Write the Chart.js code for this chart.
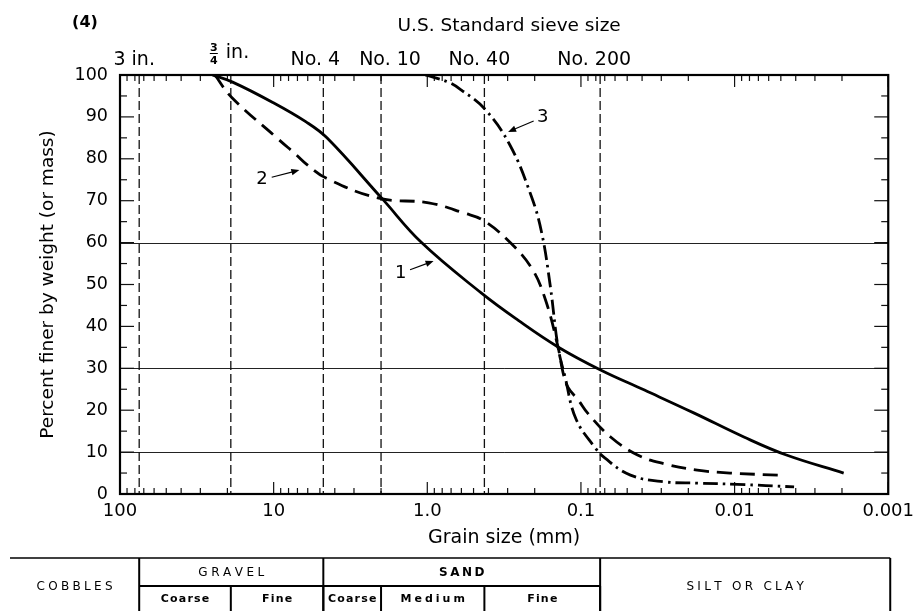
<!DOCTYPE html>
<html><head><meta charset="utf-8">
<script src="https://cdn.jsdelivr.net/npm/chart.js@4.4.1/dist/chart.umd.min.js"></script>
<style>html,body{margin:0;padding:0;background:#fff;}canvas{display:block;}</style>
</head><body>
<canvas id="c" width="921" height="611" style="width:921px;height:611px"></canvas>
<script>
// ---------- data ----------
const sieveNames = ['3 in.', '3/4 in.', 'No. 4', 'No. 10', 'No. 40', 'No. 200'];
const sieveSizes = [75, 19, 4.75, 2.0, 0.425, 0.075];           // mm
const xTickValues = [100, 10, 1, 0.1, 0.01, 0.001];
const xTickLabels = ['100', '10', '1.0', '0.1', '0.01', '0.001'];
const yTickValues = [0, 10, 20, 30, 40, 50, 60, 70, 80, 90, 100];
const gridPercents = [10, 30, 60];

const curve1Size    = [25, 18.5, 10.2, 6.15, 4.5, 1.98, 1.09, 0.446, 0.257, 0.141, 0.0745, 0.0386, 0.0183, 0.0087, 0.0046, 0.00195];
const curve1Percent = [100, 98.3, 93.5, 88.8, 85, 70.6, 60, 48, 41.5, 35.1, 29.6, 24.8, 19.3, 13.6, 9.3, 5];

const curve2Size    = [24.1, 18.8, 9.2, 7.1, 6.15, 4.56, 2.07, 0.98, 0.57, 0.436, 0.30, 0.21, 0.17, 0.141, 0.131, 0.1216, 0.104, 0.0904, 0.0641, 0.0428, 0.0286, 0.0175, 0.0107, 0.00515];
const curve2Percent = [100, 94.7, 84.5, 80.9, 78.8, 75.4, 70.6, 69.5, 67, 65.4, 60.6, 54, 46.3, 35.1, 29.1, 25.5, 22.4, 19.3, 13.6, 9.3, 7.2, 5.7, 5.0, 4.5];

const curve3Size    = [1.03, 0.73, 0.60, 0.425, 0.29, 0.21, 0.18, 0.158, 0.141, 0.127, 0.108, 0.0815, 0.070, 0.0476, 0.0286, 0.0175, 0.0096, 0.0041];
const curve3Percent = [100, 98.3, 96.4, 92, 83.3, 71, 62.3, 49.4, 35.1, 28, 18, 11.2, 8.6, 4.5, 2.9, 2.6, 2.3, 1.7];

const calloutText      = ['1', '2', '3'];
const calloutLabelSize = [1.49, 11.9, 0.177];
const calloutLabelPct  = [52.7, 75, 90];
const calloutTipSize   = [0.91, 6.8, 0.298];
const calloutTipPct    = [55.6, 77.3, 86.4];

// soil classification table (boundaries are sieve sizes)
const majorClasses = ['COBBLES', 'GRAVEL', 'SAND', 'SILT OR CLAY'];
const majorBounds  = [[null, 75], [75, 4.75], [4.75, 0.075], [0.075, null]];
const subClasses   = ['Coarse', 'Fine', 'Coarse', 'Medium', 'Fine'];
const subBounds    = [[75, 19], [19, 4.75], [4.75, 2.0], [2.0, 0.425], [0.425, 0.075]];

// ---------- helpers ----------
const FONT = "'DejaVu Sans', sans-serif";
const pts = (xs, ys) => xs.map((v, i) => ({x: v, y: ys[i]}));

function spacedText(ctx, text, cx, cy, spacing) {
  const chars = [...text];
  const widths = chars.map(c => ctx.measureText(c).width);
  const total = widths.reduce((a, b) => a + b, 0) + spacing * (chars.length - 1);
  let xx = cx - total / 2;
  ctx.textAlign = 'left';
  chars.forEach((c, i) => { ctx.fillText(c, xx, cy); xx += widths[i] + spacing; });
}

const decor = {
  id: 'decor',
  beforeDatasetsDraw(chart) {
    const {ctx, chartArea: a, scales: {x, y}} = chart;
    const seg = (x1, y1, x2, y2) => { ctx.beginPath(); ctx.moveTo(x1, y1); ctx.lineTo(x2, y2); ctx.stroke(); };
    ctx.save();
    ctx.strokeStyle = '#222';
    ctx.lineWidth = 1;
    gridPercents.forEach(p => { const py = Math.round(y.getPixelForValue(p)) + 0.5; seg(a.left, py, a.right, py); });
    ctx.strokeStyle = '#111';
    ctx.setLineDash([9, 4]);
    ctx.lineWidth = 1.3;
    sieveSizes.forEach(s => { const px = x.getPixelForValue(s); seg(px, a.top, px, a.bottom); });
    ctx.setLineDash([]);
    ctx.lineWidth = 1.2;
    for (let k = -3; k <= 1; k++) {
      for (let m = 1; m <= 9; m++) {
        const v = m * Math.pow(10, k);
        const px = x.getPixelForValue(v);
        const len = m === 1 ? 12 : 6;
        seg(px, a.bottom, px, a.bottom - len);
        seg(px, a.top, px, a.top + len);
      }
    }
    for (let p = 0; p <= 100; p += 5) {
      const py = y.getPixelForValue(p);
      const len = p % 10 === 0 ? 14 : 7;
      seg(a.left, py, a.left + len, py);
      seg(a.right, py, a.right - len, py);
    }
    ctx.lineWidth = 2.2;
    ctx.strokeStyle = '#000';
    ctx.strokeRect(a.left, a.top, a.right - a.left, a.bottom - a.top);
    ctx.restore();
  },
  afterDraw(chart) {
    const {ctx, chartArea: a, scales: {x, y}} = chart;
    const seg = (x1, y1, x2, y2) => { ctx.beginPath(); ctx.moveTo(x1, y1); ctx.lineTo(x2, y2); ctx.stroke(); };
    ctx.save();
    ctx.fillStyle = '#000';
    ctx.strokeStyle = '#000';

    // callouts
    ctx.font = '18px ' + FONT;
    ctx.textAlign = 'center';
    ctx.textBaseline = 'middle';
    ctx.lineWidth = 1.1;
    calloutText.forEach((t, i) => {
      const lx = x.getPixelForValue(calloutLabelSize[i]), ly = y.getPixelForValue(calloutLabelPct[i]);
      const tx = x.getPixelForValue(calloutTipSize[i]), ty = y.getPixelForValue(calloutTipPct[i]);
      ctx.fillText(t, lx, ly);
      const dx = tx - lx, dy = ty - ly, d = Math.hypot(dx, dy), ux = dx / d, uy = dy / d;
      const sx = lx + ux * 10, sy = ly + uy * 10;
      seg(sx, sy, tx - ux * 6, ty - uy * 6);
      ctx.beginPath();
      ctx.moveTo(tx, ty);
      ctx.lineTo(tx - ux * 8 - uy * 3.2, ty - uy * 8 + ux * 3.2);
      ctx.lineTo(tx - ux * 8 + uy * 3.2, ty - uy * 8 - ux * 3.2);
      ctx.closePath();
      ctx.fill();
    });

    // header texts
    ctx.textBaseline = 'alphabetic';
    ctx.font = 'bold 16px ' + FONT;
    ctx.textAlign = 'center';
    ctx.fillText('(4)', 85, 27);
    ctx.font = '18.5px ' + FONT;
    ctx.fillText('U.S. Standard sieve size', (a.left + a.right) / 2 + 5, 31);

    const nudge = [-5, 0, -8, 9, -5, -6];
    sieveNames.forEach((n, i) => {
      const px = x.getPixelForValue(sieveSizes[i]) + nudge[i];
      if (n.startsWith('3/4')) {
        ctx.font = 'bold 11px ' + FONT;
        ctx.textAlign = 'center';
        ctx.fillText('3', px - 17, 51);
        ctx.fillText('4', px - 17, 64);
        ctx.lineWidth = 1;
        seg(px - 21, 53.5, px - 13, 53.5);
        ctx.font = '19px ' + FONT;
        ctx.textAlign = 'left';
        ctx.fillText(n.replace('3/4 ', ''), px - 5, 58);
      } else {
        ctx.font = '19px ' + FONT;
        ctx.textAlign = 'center';
        ctx.fillText(n, px, 65);
      }
    });

    // classification table
    const tTop = 558, tMid = 586, tBot = 611;
    const xl = 10, xr = a.right + 2;
    const bx = v => v === null ? null : x.getPixelForValue(v);
    ctx.lineWidth = 1.5;
    seg(xl, tTop, xr, tTop);
    ctx.lineWidth = 2;
    const gx0 = bx(majorBounds[1][0]), sx1 = bx(majorBounds[2][1]);
    seg(gx0, tMid, sx1, tMid);
    [gx0, bx(majorBounds[2][0]), sx1, xr].forEach(px => seg(px, tTop, px, tBot));
    subBounds.forEach(b => { const px = bx(b[1]); seg(px, tMid, px, tBot); });

    ctx.textBaseline = 'middle';
    majorClasses.forEach((c, i) => {
      const l = majorBounds[i][0] === null ? xl : bx(majorBounds[i][0]);
      const r = majorBounds[i][1] === null ? xr : bx(majorBounds[i][1]);
      const cx = (l + r) / 2;
      if (c === 'GRAVEL' || c === 'SAND') {
        ctx.font = (c === 'SAND' ? 'bold ' : '') + '12px ' + FONT;
        spacedText(ctx, c, cx, (tTop + tMid) / 2 + 1, c === 'SAND' ? 2.5 : 3.5);
      } else {
        ctx.font = '12px ' + FONT;
        spacedText(ctx, c, cx, (tTop + tBot) / 2 + 2, 3.3);
      }
    });
    ctx.font = 'bold 11px ' + FONT;
    subClasses.forEach((c, i) => {
      const cx = (bx(subBounds[i][0]) + bx(subBounds[i][1])) / 2;
      spacedText(ctx, c, cx, (tMid + tBot) / 2 + 1, c === 'Medium' ? 3 : 1.2);
    });
    ctx.restore();
  }
};

const lineBase = {borderColor: '#000', backgroundColor: '#000', pointRadius: 0, showLine: true, fill: false,
  tension: 0.4, borderWidth: 2.8, borderCapStyle: 'butt', borderJoinStyle: 'round'};

new Chart(document.getElementById('c'), {
  type: 'scatter',
  data: {
    datasets: [
      Object.assign({label: '1', data: pts(curve1Size, curve1Percent)}, lineBase),
      Object.assign({label: '2', data: pts(curve2Size, curve2Percent), borderDash: [15, 8]}, lineBase),
      Object.assign({label: '3', data: pts(curve3Size, curve3Percent), borderDash: [15, 5, 2.5, 5]}, lineBase)
    ]
  },
  options: {
    responsive: false,
    animation: false,
    layout: {padding: {left: 0, right: 29, top: 75, bottom: 57}},
    plugins: {legend: {display: false}, tooltip: {enabled: false}},
    scales: {
      x: {
        type: 'logarithmic', reverse: true, min: 0.001, max: 100, position: 'bottom',
        afterBuildTicks: s => { s.ticks = xTickValues.map(v => ({value: v, major: true})); },
        afterFit: s => { s.height = 60; },
        ticks: {
          autoSkip: false, maxRotation: 0, padding: 7, color: '#000',
          font: {family: FONT, size: 18},
          callback: v => xTickLabels[xTickValues.indexOf(v)]
        },
        grid: {display: false, drawTicks: false},
        border: {display: false},
        title: {display: true, text: 'Grain size (mm)', color: '#000', font: {family: FONT, size: 19}, padding: {top: 0, bottom: 5}}
      },
      y: {
        min: 0, max: 100,
        afterBuildTicks: s => { s.ticks = yTickValues.map(v => ({value: v})); },
        afterFit: s => { s.width = 120; },
        ticks: {padding: 12, color: '#000', font: {family: FONT, size: 17.5}},
        grid: {display: false, drawTicks: false},
        border: {display: false},
        title: {display: true, text: 'Percent finer by weight (or mass)', color: '#000', font: {family: FONT, size: 18.5}, padding: {top: 37, bottom: 0}}
      }
    }
  },
  plugins: [decor]
});
</script>
</body></html>
